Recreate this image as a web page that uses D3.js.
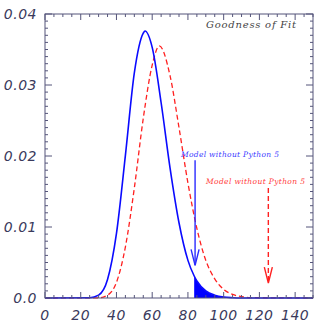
<!DOCTYPE html>
<html>
<head>
<meta charset="utf-8">
<script src="https://cdn.jsdelivr.net/npm/d3@7"></script>
<style>
  body { margin: 0; background: #fff; }
  svg { display: block; }
</style>
</head>
<body>
<svg></svg>
<script>
// curve samples
const blueX = [0, 25, 30, 35, 40, 45, 50, 55, 56, 60, 65, 70, 75, 80, 83.5, 85, 90, 95, 100, 105, 110, 150];
const blueY = [0, 0.00003, 0.0004, 0.0026, 0.0091, 0.0201, 0.0317, 0.0373, 0.0376, 0.0353, 0.0275, 0.0183, 0.0106, 0.0053, 0.0031, 0.0024, 0.0010, 0.0004, 0.00013, 0.00004, 0.00001, 0];
const redX = [0, 30, 35, 40, 45, 50, 55, 60, 64, 70, 75, 80, 85, 90, 95, 100, 105, 110, 115, 150];
const redY = [0, 0.00003, 0.0004, 0.0022, 0.0072, 0.0155, 0.0253, 0.0328, 0.0355, 0.0313, 0.0240, 0.0162, 0.0098, 0.0053, 0.0027, 0.0012, 0.0005, 0.0002, 0.00005, 0];
const cutoff = 83.5;

const xTicks = [0, 20, 40, 60, 80, 100, 120, 140];
const yTicks = [0, 0.01, 0.02, 0.03, 0.04];
const yTickLabels = ['0.0', '0.01', '0.02', '0.03', '0.04'];

const title = 'Goodness of Fit';
const label = 'Model without Python 5';
const blueArrow = { x: 84, from: 0.0194, to: 0.0046 };
const redArrow = { x: 125, from: 0.0155, to: 0.0021 };

const svgWidth = 327;
const svgHeight = 327;
const margin = { top: 14, right: 14, bottom: 29, left: 45 };
const width = svgWidth - margin.left - margin.right;
const height = svgHeight - margin.top - margin.bottom;

const axisColor = '#55557a';
const labelColor = '#3a3a5c';

const svg = d3.select('svg')
    .attr('width', svgWidth)
    .attr('height', svgHeight)
    .append('g')
    .attr('transform', `translate(${margin.left}, ${margin.top})`);

const x = d3.scaleLinear().domain([0, 150]).range([0, width]);
const y = d3.scaleLinear().domain([0, 0.04]).range([height, 0]);

const blue = blueX.map((v, i) => ({ x: v, y: blueY[i] }));
const red = redX.map((v, i) => ({ x: v, y: redY[i] }));

// shaded tail
const area = d3.area()
    .x(d => x(d.x))
    .y0(y(0))
    .y1(d => y(d.y))
    .curve(d3.curveMonotoneX);

svg.append('path')
    .datum(blue.filter(d => d.x >= cutoff))
    .attr('d', area)
    .attr('fill', '#0000ff');

const line = d3.line()
    .x(d => x(d.x))
    .y(d => y(d.y))
    .curve(d3.curveMonotoneX);

svg.append('path')
    .datum(red)
    .attr('d', line)
    .attr('fill', 'none')
    .attr('stroke', '#ff2020')
    .attr('stroke-width', 1.3)
    .attr('stroke-dasharray', '5,3');

svg.append('path')
    .datum(blue)
    .attr('d', line)
    .attr('fill', 'none')
    .attr('stroke', '#0a0aff')
    .attr('stroke-width', 1.6);

// frame with inward ticks on all sides
svg.append('rect')
    .attr('width', width)
    .attr('height', height)
    .attr('fill', 'none')
    .attr('stroke', axisColor)
    .attr('stroke-width', 1);

const xMinor = d3.range(0, 151, 5);
const yMinor = d3.range(0, 41).map(i => i / 1000);

const ticks = svg.append('g').attr('stroke', axisColor).attr('stroke-width', 1);
xMinor.forEach(v => {
    const len = v % 20 === 0 ? 6 : 3;
    ticks.append('line').attr('x1', x(v)).attr('x2', x(v)).attr('y1', height).attr('y2', height - len);
    ticks.append('line').attr('x1', x(v)).attr('x2', x(v)).attr('y1', 0).attr('y2', len);
});
yMinor.forEach((v, i) => {
    const len = i % 10 === 0 ? 7 : 3;
    ticks.append('line').attr('x1', 0).attr('x2', len).attr('y1', y(v)).attr('y2', y(v));
    ticks.append('line').attr('x1', width).attr('x2', width - len).attr('y1', y(v)).attr('y2', y(v));
});

svg.selectAll('.xlab')
    .data(xTicks)
    .enter().append('text')
    .attr('x', d => x(d))
    .attr('y', height + 22)
    .attr('text-anchor', 'middle')
    .attr('font-family', 'DejaVu Sans, sans-serif')
    .attr('font-style', 'italic')
    .attr('font-weight', 300)
    .attr('font-size', '14px')
    .attr('letter-spacing', '0.5px')
    .attr('fill', labelColor)
    .text(d => d);

svg.selectAll('.ylab')
    .data(yTicks)
    .enter().append('text')
    .attr('x', -8)
    .attr('y', d => y(d))
    .attr('dy', '.35em')
    .attr('text-anchor', 'end')
    .attr('font-family', 'DejaVu Sans, sans-serif')
    .attr('font-style', 'italic')
    .attr('font-weight', 300)
    .attr('font-size', '14px')
    .attr('letter-spacing', '0.5px')
    .attr('fill', labelColor)
    .text((d, i) => yTickLabels[i]);

svg.append('text')
    .attr('x', 161)
    .attr('y', 14)
    .attr('font-family', 'DejaVu Serif, serif')
    .attr('font-style', 'italic')
    .attr('font-size', '10px')
    .attr('textLength', 90)
    .attr('fill', '#444')
    .text(title);

svg.append('text')
    .attr('x', x(76.1))
    .attr('y', y(0.0199))
    .attr('font-family', 'DejaVu Serif, serif')
    .attr('font-style', 'italic')
    .attr('font-size', '7.5px')
    .attr('textLength', 98)
    .attr('fill', '#3a3aff')
    .text(label);

svg.append('text')
    .attr('x', x(90.1))
    .attr('y', y(0.0161))
    .attr('font-family', 'DejaVu Serif, serif')
    .attr('font-style', 'italic')
    .attr('font-size', '7.5px')
    .attr('textLength', 99)
    .attr('fill', '#ff3a3a')
    .text(label);

function arrow(a, color, dash) {
    const g = svg.append('g')
        .attr('stroke', color)
        .attr('stroke-width', 1.4)
        .attr('fill', 'none');
    g.append('line')
        .attr('x1', x(a.x)).attr('x2', x(a.x))
        .attr('y1', y(a.from)).attr('y2', y(a.to))
        .attr('stroke-dasharray', dash);
    g.append('path')
        .attr('d', `M${x(a.x) - 4},${y(a.to) - 16}L${x(a.x)},${y(a.to)}L${x(a.x) + 4},${y(a.to) - 16}`);
}
arrow(blueArrow, '#2a2aff', null);
arrow(redArrow, '#ff2020', '5,3');
</script>
</body>
</html>
